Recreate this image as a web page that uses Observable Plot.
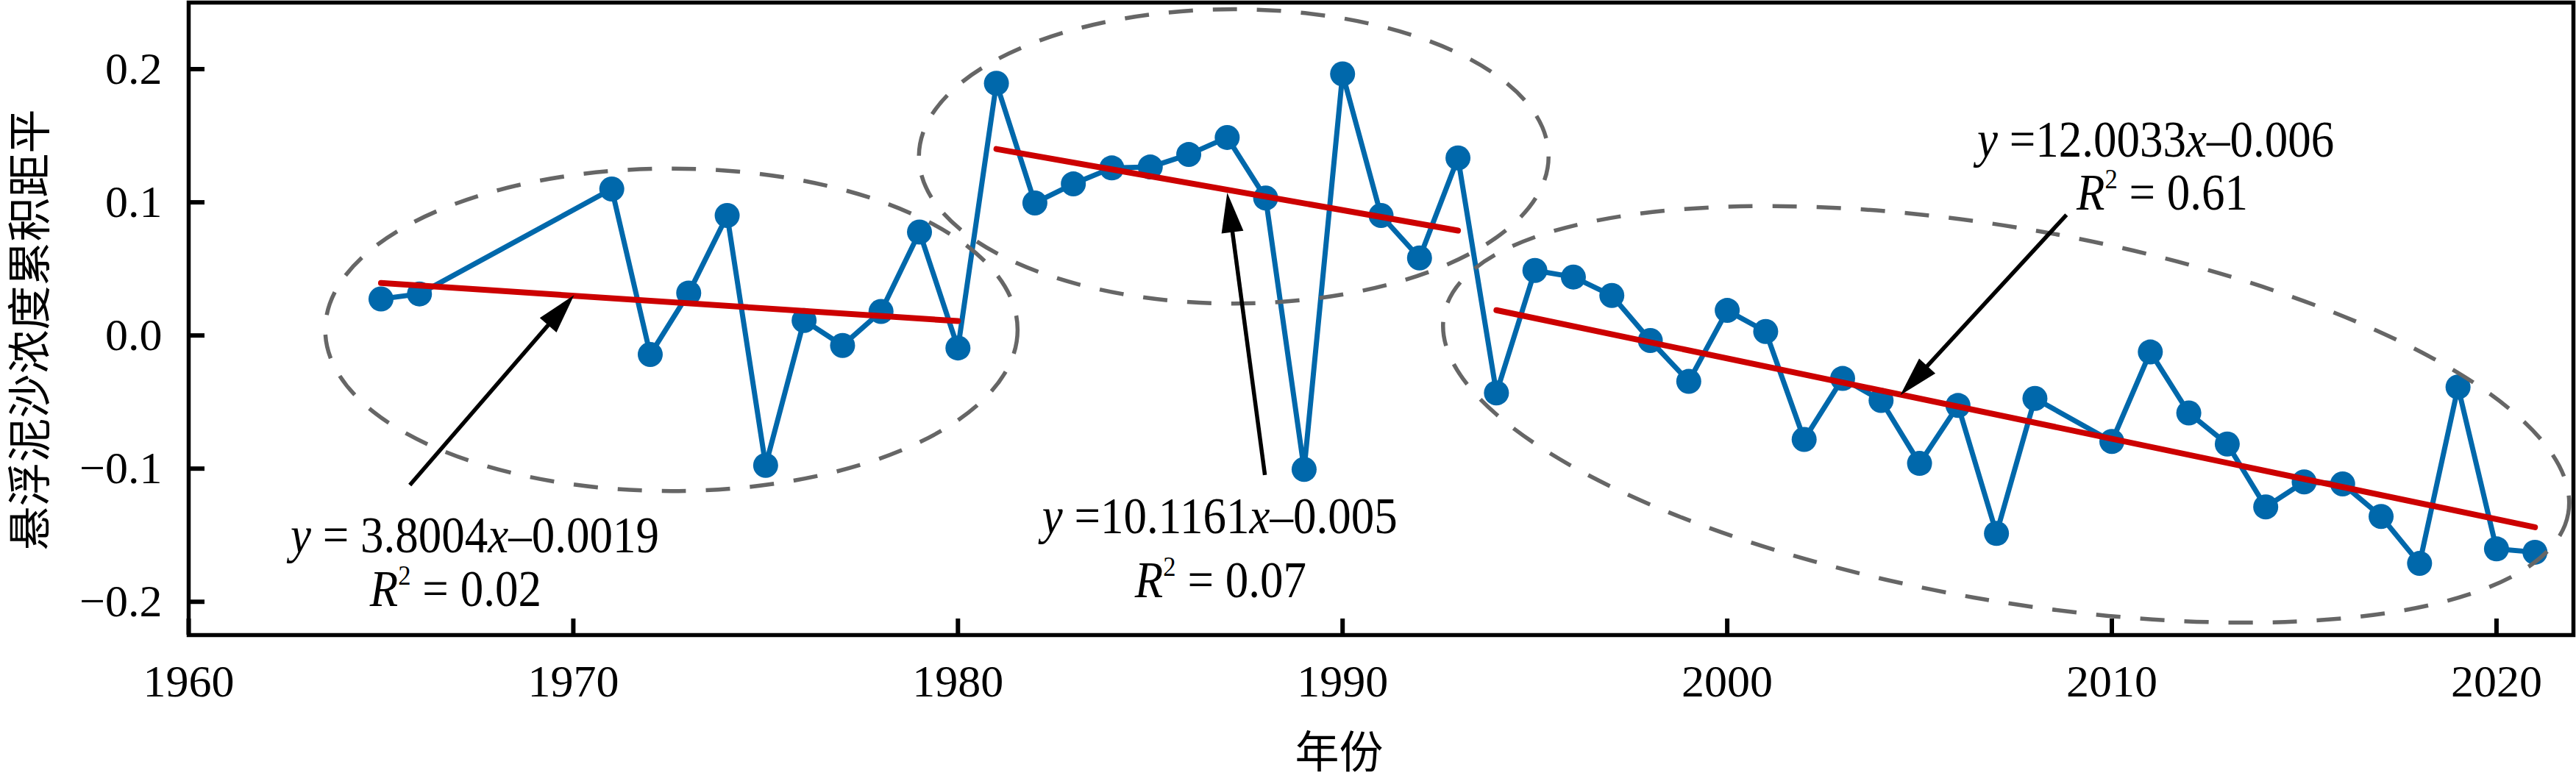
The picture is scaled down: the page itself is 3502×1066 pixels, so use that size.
<!DOCTYPE html>
<html>
<head>
<meta charset="utf-8">
<script src="https://cdn.jsdelivr.net/npm/d3@7"></script>
<script src="https://cdn.jsdelivr.net/npm/@observablehq/plot@0.6"></script>
<style>
  html, body { margin: 0; padding: 0; background: #fff; }
  #chart svg { display: block; }
</style>
</head>
<body>
<div id="chart"></div>
<script>
// ---------- data ----------
const years = [1965, 1966, 1971, 1972, 1973, 1974, 1975, 1976, 1977, 1978, 1979, 1980,
  1981, 1982, 1983, 1984, 1985, 1986, 1987, 1988, 1989, 1990, 1991, 1992, 1993,
  1994, 1995, 1996, 1997, 1998, 1999, 2000, 2001, 2002, 2003, 2004, 2005, 2006, 2007, 2008,
  2010, 2011, 2012, 2013, 2014, 2015, 2016, 2017, 2018, 2019, 2020, 2021];
const values = [0.0274, 0.0312, 0.1100, -0.0143, 0.0319, 0.0901, -0.0976, 0.0113, -0.0075, 0.0180, 0.0777, -0.0094,
  0.1894, 0.0995, 0.1138, 0.1258, 0.1265, 0.1359, 0.1487, 0.1032, -0.1006, 0.1964, 0.0901, 0.0582, 0.1333,
  -0.0432, 0.0488, 0.0439, 0.0300, -0.0038, -0.0345, 0.0188, 0.0030, -0.0781, -0.0323, -0.0488, -0.0961, -0.0526, -0.1487, -0.0473,
  -0.0796, -0.0124, -0.0582, -0.0815, -0.1288, -0.1100, -0.1115, -0.1359, -0.1712, -0.0387, -0.1603, -0.1628];

// fitted trend segments (start / end)
const trendX1 = [1965, 1981, 1994];
const trendX2 = [1980, 1993, 2021];
const trendY1 = [0.0394, 0.1400, 0.0190];
const trendY2 = [0.0108, 0.0788, -0.1440];

// dashed grouping ellipses (centre, semi-axes in data units, rotation in degrees)
const ellipseCx = [1972.56, 1987.18, 2007.26];
const ellipseCy = [0.0040, 0.1342, -0.0595];
const ellipseRx = [9.00, 8.185, 14.84];
const ellipseRy = [0.1211, 0.1105, 0.1397];
const ellipseAngle = [0, 0, 10];

// annotation arrows (tail -> head)
const arrowX1 = [1965.76, 1987.99, 2008.83];
const arrowY1 = [-0.1126, -0.1051, 0.0903];
const arrowX2 = [1970.03, 1987.01, 2004.51];
const arrowY2 = [0.0300, 0.1069, -0.0451];

// regression labels
const eqLabels = ["y = 3.8004x\u20130.0019", "y =10.1161x\u20130.005", "y =12.0033x\u20130.006"];
const eqX = [1962.66, 1982.20, 2006.51];
const eqY = [-0.1632, -0.1490, 0.1340];
const r2Labels = ["0.02", "0.07", "0.61"];
const r2X = [1964.72, 1984.61, 2009.09];
const r2Y = [-0.2033, -0.1969, 0.0940];

const xTicks = [1960, 1970, 1980, 1990, 2000, 2010, 2020];
const yTicks = [-0.2, -0.1, 0.0, 0.1, 0.2];
const xTitle = "年份";
const yTitle = "悬浮泥沙浓度累积距平";

// ---------- styling ----------
const blue = "#0068AB", red = "#CC0000", grey = "#666666";
const serif = "'Liberation Serif', 'Times New Roman', serif";
const cjk = "'Noto Sans CJK SC', sans-serif";
const NS = "http://www.w3.org/2000/svg";
const annFont = 63;
const annStretch = 1.1;

const series = years.map((year, i) => ({year, value: values[i]}));
const trends = trendX1.map((x1, i) => ({x1, x2: trendX2[i], y1: trendY1[i], y2: trendY2[i]}));

function el(name, attrs) {
  const e = document.createElementNS(NS, name);
  for (const k in attrs) e.setAttribute(k, attrs[k]);
  return e;
}

function ellipsesMark(index, scales) {
  const g = el("g", {});
  ellipseCx.forEach((cx, i) => {
    const px = scales.x(cx), py = scales.y(ellipseCy[i]);
    const rx = Math.abs(scales.x(cx + ellipseRx[i]) - px);
    const ry = Math.abs(scales.y(ellipseCy[i] + ellipseRy[i]) - py);
    g.appendChild(el("ellipse", {
      cx: px, cy: py, rx, ry, fill: "none", stroke: grey, "stroke-width": 5.5,
      "stroke-dasharray": "33 27", transform: `rotate(${ellipseAngle[i]} ${px} ${py})`
    }));
  });
  return g;
}

function arrowsMark(index, scales) {
  const g = el("g", {});
  const headLen = 54, headW = 15;
  arrowX1.forEach((ax, i) => {
    const x1 = scales.x(ax), y1 = scales.y(arrowY1[i]);
    const x2 = scales.x(arrowX2[i]), y2 = scales.y(arrowY2[i]);
    const len = Math.hypot(x2 - x1, y2 - y1);
    const ux = (x2 - x1) / len, uy = (y2 - y1) / len;
    const bx = x2 - ux * headLen, by = y2 - uy * headLen;
    g.appendChild(el("line", {x1, y1, x2: bx + ux * 2, y2: by + uy * 2, stroke: "black", "stroke-width": 5.5}));
    const pts = [[x2, y2], [bx - uy * headW, by + ux * headW], [bx + uy * headW, by - ux * headW]];
    g.appendChild(el("polygon", {points: pts.map(p => p.join(",")).join(" "), fill: "black"}));
  });
  return g;
}

function labelsMark(index, scales) {
  const g = el("g", {"font-family": serif, "font-size": annFont, fill: "black", "text-anchor": "start"});
  eqLabels.forEach((str, i) => {
    const t = el("text", {x: 0, y: 0, transform: `translate(${scales.x(eqX[i])},${scales.y(eqY[i])}) scale(1,${annStretch})`});
    const runs = [];
    for (const ch of str) {
      const it = ch === "x" || ch === "y";
      if (runs.length && runs[runs.length - 1].it === it) runs[runs.length - 1].t += ch;
      else runs.push({t: ch, it});
    }
    runs.forEach(r => {
      const s = el("tspan", r.it ? {"font-style": "italic"} : {});
      s.textContent = r.t;
      t.appendChild(s);
    });
    g.appendChild(t);

    const t2 = el("text", {x: 0, y: 0, transform: `translate(${scales.x(r2X[i])},${scales.y(r2Y[i])}) scale(1,${annStretch})`});
    const a = el("tspan", {"font-style": "italic"}); a.textContent = "R"; t2.appendChild(a);
    const b = el("tspan", {"font-size": annFont * 0.55, dy: -annFont * 0.42}); b.textContent = "2"; t2.appendChild(b);
    const c = el("tspan", {dy: annFont * 0.42}); c.textContent = " = " + r2Labels[i]; t2.appendChild(c);
    g.appendChild(t2);
  });
  return g;
}

const chart = Plot.plot({
  width: 3502,
  height: 1066,
  marginLeft: 256,
  marginRight: 4,
  marginTop: 3,
  marginBottom: 203,
  x: {domain: [1960, 2022]},
  y: {domain: [-0.225, 0.25]},
  style: {background: "white", color: "black", fontFamily: serif, fontSize: "62px"},
  marks: [
    Plot.line(series, {x: "year", y: "value", stroke: blue, strokeWidth: 7, strokeLinejoin: "round"}),
    Plot.dot(series, {x: "year", y: "value", r: 17, fill: blue, stroke: "none"}),
    ellipsesMark,
    Plot.link(trends, {x1: "x1", y1: "y1", x2: "x2", y2: "y2", stroke: red, strokeWidth: 8, strokeLinecap: "round"}),
    arrowsMark,
    labelsMark,
    Plot.axisX({ticks: xTicks, tickFormat: d3.format("d"), tickSize: -22, tickPadding: 61,
      fontSize: 62, fontFamily: serif, strokeWidth: 6, label: null}),
    Plot.axisY({ticks: yTicks, tickFormat: d3.format(".1f"), tickSize: -22, tickPadding: 58,
      fontSize: 62, fontFamily: serif, strokeWidth: 6, label: null}),
    Plot.frame({stroke: "black", strokeWidth: 5.5}),
    Plot.text([yTitle], {frameAnchor: "left", dx: -214, dy: 15, rotate: -90, fontSize: 60,
      fontFamily: cjk, fill: "black", textAnchor: "middle", lineAnchor: "middle"}),
    Plot.text([xTitle], {frameAnchor: "bottom", dx: -57, dy: 161, fontSize: 60,
      fontFamily: cjk, fill: "black", textAnchor: "middle", lineAnchor: "middle"})
  ]
});
document.getElementById("chart").appendChild(chart);
</script>
</body>
</html>
